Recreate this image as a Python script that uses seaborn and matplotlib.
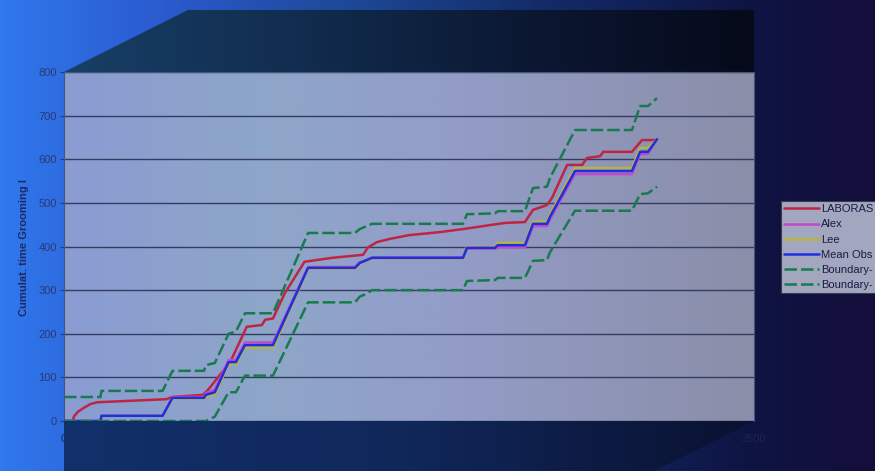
import matplotlib
matplotlib.use("Agg")

import matplotlib.pyplot as plt
import numpy as np
import pandas as pd
import seaborn as sns
from matplotlib.colors import LinearSegmentedColormap
from matplotlib.patches import Polygon

# data (time in s, cumulative grooming time)
obs_time = [0, 185, 190, 500, 550, 710, 720, 765, 835, 872, 918, 1060, 1238, 1476, 1500,
            1537, 1562, 2024, 2044, 2186, 2200, 2338, 2379, 2450, 2465, 2592, 2881, 2922, 2962, 3008]
mean_obs = [0, 0, 12, 12, 53, 53, 60, 66, 135, 135, 174, 174, 351, 351, 362,
            369, 374, 374, 397, 397, 403, 403, 452, 452, 468, 573, 573, 617, 617, 646]
alex = [0, 0, 12, 12, 55, 55, 64, 72, 140, 140, 180, 180, 353, 353, 364,
        370, 375, 375, 395, 395, 398, 398, 447, 447, 462, 566, 566, 612, 612, 646]
lee = [0, 0, 12, 12, 51, 51, 56, 60, 130, 130, 168, 168, 349, 349, 360,
       368, 373, 373, 399, 399, 408, 408, 457, 457, 474, 580, 580, 626, 626, 646]
bound_upper = [55, 55, 69, 69, 115, 115, 128, 133, 200, 205, 247, 247, 431, 431, 440,
               447, 452, 452, 474, 476, 481, 481, 534, 537, 557, 667, 667, 722, 722, 740]
bound_lower = [0, 0, 0, 0, 0, 0, 0, 10, 66, 66, 104, 104, 272, 272, 285,
               292, 300, 300, 321, 323, 328, 328, 367, 369, 387, 482, 482, 520, 522, 537]

laboras_time = [0, 45, 50, 70, 100, 135, 170, 520, 548, 705, 730, 843, 927, 1004, 1020,
                1060, 1120, 1220, 1360, 1517, 1542, 1587, 1648, 1750, 1907, 2024, 2100, 2235, 2338, 2379,
                2450, 2475, 2552, 2628, 2653, 2720, 2735, 2881, 2932, 2998]
laboras = [0, 0, 10, 21, 30, 39, 43, 50, 55, 60, 71, 135, 216, 220, 232,
           235, 293, 365, 374, 381, 398, 410, 417, 426, 433, 440, 445, 454, 456, 484,
           495, 511, 587, 587, 603, 607, 617, 617, 644, 644]

# legend texts as far as they are visible in the reference
series_names = ["LABORAS", "Alex", "Lee", "Mean Obs", "Boundary-", "Boundary- "]
y_ticks = [0, 100, 200, 300, 400, 500, 600, 700, 800]
x_ticks = [0, 3500]

frames = [pd.DataFrame({"time": laboras_time, "value": laboras, "series": series_names[0]})]
for name, vals in zip(series_names[1:], [alex, lee, mean_obs, bound_upper, bound_lower]):
    frames.append(pd.DataFrame({"time": obs_time, "value": vals, "series": name}))
df = pd.concat(frames, ignore_index=True)

sns.set_theme(style="white")
plt.rcParams["font.family"] = ["Liberation Sans", "DejaVu Sans"]

W, H = 875, 471
fig = plt.figure(figsize=(W / 100, H / 100), dpi=100)

# background gradient (pixel coordinates)
bg = fig.add_axes([0, 0, 1, 1], zorder=0)
bg_cmap = LinearSegmentedColormap.from_list(
    "bg", [(0, "#3078ec"), (0.17, "#2b5cd2"), (0.4, "#1d4896"), (0.63, "#132a66"),
           (0.86, "#0e1442"), (1, "#150e3c")])
grad = np.linspace(0, 1, 256).reshape(1, -1)
bg.imshow(grad, cmap=bg_cmap, extent=(0, W, H, 0), aspect="auto")

# dark top panel of the 3D frame
top_cmap = LinearSegmentedColormap.from_list(
    "top", [(0, "#173f66"), (0.35, "#112c4e"), (0.7, "#0b1630"), (1, "#060a1a")])
top_poly = Polygon([(64, 72), (188, 10), (754, 10), (754, 72)], closed=True,
                   facecolor="none", edgecolor="none")
bg.add_patch(top_poly)
im_top = bg.imshow(grad, cmap=top_cmap, extent=(64, 754, 72, 10), aspect="auto")
im_top.set_clip_path(top_poly)
bg.set_xlim(0, W)
bg.set_ylim(H, 0)
bg.axis("off")

# main plot
ax = fig.add_axes([64 / W, (H - 421) / H, 690 / W, 349 / H], zorder=1)
ax.set_facecolor("none")
plot_cmap = LinearSegmentedColormap.from_list(
    "plot", [(0, "#8a9cd2"), (0.3, "#8ea6c8"), (0.55, "#939dc8"), (1, "#8a8ea8")])
ax.imshow(grad, cmap=plot_cmap, extent=(0, 3500, 0, 800), aspect="auto", zorder=0)

palette = dict(zip(series_names, ["#bf2444", "#c448cc", "#b8b440", "#1c30e0", "#187a4e", "#187a4e"]))
dashes = dict(zip(series_names, ["", "", "", "", (5, 1.6), (5, 1.6)]))
sns.lineplot(data=df, x="time", y="value", hue="series", style="series",
             hue_order=series_names, style_order=series_names,
             palette=palette, dashes=dashes, estimator=None, sort=False,
             linewidth=1.8, legend=False, ax=ax)

ax.set_xlim(0, 3500)
ax.set_ylim(0, 800)
ax.set_yticks(y_ticks)
ax.set_xticks(x_ticks)
ax.set_axisbelow(True)
ax.grid(axis="y", color="#343c62", linewidth=1.0)
ax.grid(axis="x", visible=False)
ax.tick_params(axis="both", labelsize=8, colors="#2a3a74", length=3, width=0.8,
               direction="out", pad=2, left=True, bottom=False)
ax.tick_params(axis="x", pad=6)
for lab in ax.get_xticklabels():
    lab.set_color("#18264e")
for side in ["top", "right", "left"]:
    ax.spines[side].set_color("#4a5478")
    ax.spines[side].set_linewidth(0.8)
ax.spines["bottom"].set_visible(False)

ax.set_xlabel("")
ax.set_ylabel("Cumulat. time Grooming I", fontsize=8, fontweight="bold", color="#1e2a62")
ax.yaxis.set_label_coords(-(64 - 29) / 690, (421 - 248) / 349)

handles = ax.get_lines()[:len(series_names)]
leg = ax.legend(handles, [n.strip() for n in series_names], loc="upper left",
                bbox_to_anchor=(781 / W, 1 - 201 / H), bbox_transform=fig.transFigure,
                fontsize=8, frameon=True, fancybox=False, framealpha=1,
                handlelength=3.1, handletextpad=0.2, labelspacing=0.46,
                borderpad=0.3, borderaxespad=0)
leg.get_frame().set_facecolor("#a2a6be")
leg.get_frame().set_edgecolor("#3a3c50")
leg.get_frame().set_linewidth(0.8)
for t in leg.get_texts():
    t.set_color("#1a1c44")

# dark bottom panel of the 3D frame, drawn above the plot
ov = fig.add_axes([0, 0, 1, 1], zorder=3)
ov.patch.set_alpha(0)
bot_cmap = LinearSegmentedColormap.from_list(
    "bot", [(0, "#12306a"), (0.5, "#10275a"), (1, "#0a1130")])
bot_poly = Polygon([(64, 421), (754, 421), (654, 471), (64, 471)], closed=True,
                   facecolor="none", edgecolor="none")
ov.add_patch(bot_poly)
im_bot = ov.imshow(grad, cmap=bot_cmap, extent=(64, 754, 471, 421), aspect="auto")
im_bot.set_clip_path(bot_poly)
ov.set_xlim(0, W)
ov.set_ylim(H, 0)
ov.axis("off")

fig.savefig("out.png", dpi=100)
